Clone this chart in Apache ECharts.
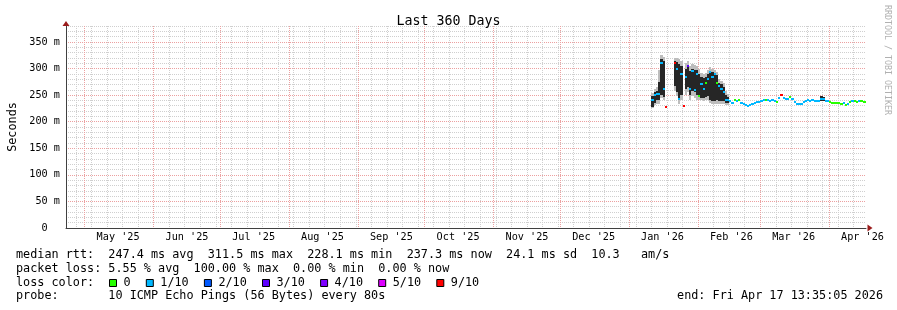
<!DOCTYPE html>
<html><head><meta charset="utf-8">
<script src="https://cdn.jsdelivr.net/npm/echarts@6/dist/echarts.min.js"></script>
<style>html,body{margin:0;padding:0;background:#fff}#c{width:897px;height:310px}</style>
</head><body><div id="c"></div>
<script>
const _ = null;
// ---- data (one bin per day, 2026) ----
const days = [
'2026-01-11','2026-01-12','2026-01-13','2026-01-14','2026-01-15','2026-01-16','2026-01-17','2026-01-18','2026-01-19','2026-01-20',
'2026-01-21','2026-01-22','2026-01-23','2026-01-24','2026-01-25','2026-01-26','2026-01-27','2026-01-28','2026-01-29','2026-01-30','2026-01-31',
'2026-02-01','2026-02-02','2026-02-03','2026-02-04','2026-02-05','2026-02-06','2026-02-07','2026-02-08','2026-02-09','2026-02-10',
'2026-02-11','2026-02-12','2026-02-13','2026-02-14','2026-02-15','2026-02-16','2026-02-17','2026-02-18','2026-02-19','2026-02-20',
'2026-02-21','2026-02-22','2026-02-23','2026-02-24','2026-02-25','2026-02-26','2026-02-27','2026-02-28',
'2026-03-01','2026-03-02','2026-03-03','2026-03-04','2026-03-05','2026-03-06','2026-03-07','2026-03-08','2026-03-09','2026-03-10',
'2026-03-11','2026-03-12','2026-03-13','2026-03-14','2026-03-15','2026-03-16','2026-03-17','2026-03-18','2026-03-19','2026-03-20',
'2026-03-21','2026-03-22','2026-03-23','2026-03-24','2026-03-25','2026-03-26','2026-03-27','2026-03-28','2026-03-29','2026-03-30','2026-03-31',
'2026-04-01','2026-04-02','2026-04-03','2026-04-04','2026-04-05','2026-04-06','2026-04-07','2026-04-08','2026-04-09','2026-04-10',
'2026-04-11','2026-04-12','2026-04-13','2026-04-14','2026-04-15','2026-04-16','2026-04-17'];

// median rtt (ms)
const median = [
240,250,253,252,311,262,228,_,_,_,
310,300,243,290,230,285,304,262,296,259,290,
248,270,262,272,280,294,285,290,272,268,
262,255,240,240,238,236,240,238,241,235,
233,231,230,232,234,236,237,237,
238,240,241,240,239,241,239,237,245,250,
245,243,243,246,243,237,234,233,234,237,
239,240,239,240,239,238,239,243,242,238,238,
237,236,235,236,235,234,235,231,233,237,
238,238,237,238,238,237,237];
// lost pings out of 10
const loss = [
1,1,1,1,1,1,9,_,_,_,
9,1,1,1,9,1,3,1,1,1,1,
0,1,1,0,1,1,1,1,0,1,
1,1,1,1,1,1,0,1,0,1,
1,1,1,1,1,1,1,1,
1,1,0,1,1,1,1,0,1,9,
1,1,1,0,1,1,1,1,1,1,
1,1,1,1,1,1,1,1,1,1,1,
0,0,0,0,0,0,1,0,1,0,
1,0,0,1,0,0,0];
// dense smoke (ms)
const innerLo = [
228,236,240,240,250,246,_,_,_,_,
268,255,240,250,_,262,265,250,258,256,250,
248,245,244,246,248,240,238,238,240,238,
238,238,236,236,_,_,_,_,_,_,
_,_,_,_,_,_,_,_,
_,_,_,_,_,_,_,_,_,_,
_,_,_,_,_,_,_,_,_,_,
_,_,_,_,_,_,_,238,238,_,_,
_,_,_,_,_,_,_,_,_,_,
_,_,_,_,_,_,_];
const innerHi = [
248,256,258,275,318,315,_,_,_,_,
314,312,308,305,_,300,306,296,300,298,298,
290,284,282,284,290,296,294,292,288,272,
270,266,250,246,_,_,_,_,_,_,
_,_,_,_,_,_,_,_,
_,_,_,_,_,_,_,_,_,_,
_,_,_,_,_,_,_,_,_,_,
_,_,_,_,_,_,_,248,247,_,_,
_,_,_,_,_,_,_,_,_,_,
_,_,_,_,_,_,_];
// light smoke (ms)
const outerLo = [
226,231,233,234,244,240,_,_,_,_,
258,248,234,240,_,250,255,240,248,245,240,
240,240,238,240,240,236,234,234,234,234,
234,234,232,232,_,_,_,_,_,_,
_,_,_,_,_,_,_,_,
_,_,_,_,_,_,_,_,_,_,
_,_,_,_,_,_,_,_,_,_,
_,_,_,_,_,_,_,_,_,_,_,
_,_,_,_,_,_,_,_,_,_,
_,_,_,_,_,_,_];
const outerHi = [
254,262,265,298,326,322,_,_,_,_,
320,320,318,315,_,310,314,305,308,306,305,
300,292,290,292,298,302,300,298,294,280,
276,272,258,253,_,_,_,_,_,_,
_,_,_,_,_,_,_,_,
_,_,_,_,_,_,_,_,_,_,
_,_,_,_,_,_,_,_,_,_,
_,_,_,_,_,_,_,_,_,_,_,
_,_,_,_,_,_,_,_,_,_,
_,_,_,_,_,_,_];

const monthStarts = ['2025-05-01','2025-06-01','2025-07-01','2025-08-01','2025-09-01','2025-10-01',
  '2025-11-01','2025-12-01','2026-01-01','2026-02-01','2026-03-01','2026-04-01'];
const monthLabels = ["May '25","Jun '25","Jul '25","Aug '25","Sep '25","Oct '25",
  "Nov '25","Dec '25","Jan '26","Feb '26","Mar '26","Apr '26"];
const yTickValues = [50,100,150,200,250,300,350];
const yLabelValues = [0,50,100,150,200,250,300,350];

const lossSteps = [0,1,2,3,4,5,9];
const lossNames = ['0','1/10','2/10','3/10','4/10','5/10','9/10'];
const lossColors = ['#26ff00','#00b8ff','#0059ff','#5e00ff','#7e00ff','#dd00ff','#ff0000'];

const legendLines = [
  'median rtt:  247.4 ms avg  311.5 ms max  228.1 ms min  237.3 ms now  24.1 ms sd  10.3   am/s',
  'packet loss: 5.55 % avg  100.00 % max  0.00 % min  0.00 % now',
  'loss color:',
  'probe:       10 ICMP Echo Pings (56 Bytes) every 80s'
];
const endText = 'end: Fri Apr 17 13:35:05 2026';
const titleText = 'Last 360 Days';
const yName = 'Seconds';
const watermark = 'RRDTOOL / TOBI OETIKER';

// ---- helpers ----
const DAY = 86400000;
const END = Date.UTC(2026, 3, 17, 13, 35, 5);
const START = END - 360 * DAY;
const ts = s => Date.parse(s + 'T00:00:00Z');
const FONT = '"DejaVu Sans Mono", monospace';

function lossColor(l) {
  for (let k = 0; k < lossSteps.length; k++) if (l <= lossSteps[k]) return lossColors[k];
  return lossColors[lossColors.length - 1];
}

const weekLines = [];
for (let w = Date.UTC(2025, 3, 27); w < END; w += 7 * DAY) weekLines.push(w);
const monthTs = monthStarts.map(ts);
const monthLabelTs = monthTs.map(m => m + 15 * DAY);

const medData = [], innerData = [], outerData = [];
days.forEach((d, i) => {
  const x = ts(d);
  if (median[i] != null) medData.push([x, median[i], loss[i]]);
  if (innerLo[i] != null) innerData.push([x, innerLo[i], innerHi[i]]);
  if (outerLo[i] != null) outerData.push([x, outerLo[i], outerHi[i]]);
});

function band(color) {
  return function (params, api) {
    const x0 = api.value(0), lo = api.value(1), hi = api.value(2);
    const a = api.coord([x0, hi]), b = api.coord([x0 + DAY, lo]);
    const xa = Math.round(a[0]), xb = Math.round(b[0]);
    const ya = Math.round(a[1]), yb = Math.round(b[1]);
    return { type: 'rect', shape: { x: xa, y: ya, width: Math.max(1, xb - xa), height: Math.max(1, yb - ya) },
      style: { fill: color } };
  };
}
function medItem(params, api) {
  const x0 = api.value(0), v = api.value(1), l = api.value(2);
  const a = api.coord([x0, v]), b = api.coord([x0 + DAY, v]);
  const xa = Math.round(a[0]), xb = Math.round(b[0]);
  return { type: 'rect', shape: { x: xa, y: Math.round(a[1]) - 1, width: Math.max(1, xb - xa), height: 2 },
    style: { fill: lossColor(l) } };
}

// ---- graphic legend ----
const LFONT = '11.8px ' + FONT;
const graphics = [];
const lineY = [254.5, 268.5, 282.7, 296];
legendLines.forEach((s, i) => graphics.push({ type: 'text', x: 16, y: lineY[i],
  style: { text: s, font: LFONT, fill: '#000', align: 'left', verticalAlign: 'middle' } }));
graphics.push({ type: 'text', x: 883, y: lineY[3],
  style: { text: endText, font: LFONT, fill: '#000', align: 'right', verticalAlign: 'middle' } });
let lx = 109;
lossNames.forEach((n, i) => {
  graphics.push({ type: 'rect', shape: { x: lx + 0.5, y: 279.5, width: 7, height: 7 },
    style: { fill: lossColors[i], stroke: '#000', lineWidth: 1 } });
  graphics.push({ type: 'text', x: lx + 14.5, y: lineY[2],
    style: { text: n, font: LFONT, fill: '#000', align: 'left', verticalAlign: 'middle' } });
  lx = lx + 14.5 + n.length * 7.1 + 15.2;
});
graphics.push({ type: 'text', x: 887, y: 60, rotation: -Math.PI / 2,
  style: { text: watermark, font: '8.3px ' + FONT, fill: '#b0b0b0', align: 'center', verticalAlign: 'middle' } });

const tickLabel = { fontFamily: FONT, fontSize: 10.2, color: '#000' };

const option = {
  animation: false,
  backgroundColor: '#fff',
  title: { text: titleText, left: 'center', top: 10,
    textStyle: { fontFamily: FONT, fontSize: 13.3, fontWeight: 'normal', color: '#000' } },
  grid: { left: 66, top: 26, width: 800, height: 202, containLabel: false, outerBoundsMode: 'none' },
  xAxis: [
    { type: 'value', min: START, max: END, position: 'bottom',
      axisLine: { show: true, onZero: false, lineStyle: { color: '#404040', width: 1 } },
      axisTick: { show: false, customValues: weekLines },
      axisLabel: Object.assign({ customValues: monthLabelTs, margin: 4,
        formatter: v => { const k = monthLabelTs.indexOf(v); return k >= 0 ? monthLabels[k] : ''; } }, tickLabel),
      splitLine: { show: true, lineStyle: { color: '#cfcfcf', width: 1, type: [1, 1] } } },
    { type: 'value', min: START, max: END, position: 'bottom',
      axisLine: { show: true, onZero: false, symbol: ['none', 'triangle'], symbolSize: [7, 5], symbolOffset: [0, 4],
        lineStyle: { color: '#9b1c1c', width: 0 } },
      axisTick: { show: false, customValues: monthTs },
      axisLabel: { show: false },
      splitLine: { show: true, lineStyle: { color: '#eca0a0', width: 1, type: [1, 1] } } }
  ],
  yAxis: [
    { type: 'value', min: 0, max: 380, interval: 10, position: 'left',
      axisLine: { show: true, onZero: false, lineStyle: { color: '#404040', width: 1 } },
      axisTick: { show: false }, axisLabel: { show: false },
      splitLine: { show: true, lineStyle: { color: '#cfcfcf', width: 1, type: [1, 1] } } },
    { type: 'value', min: 0, max: 380, position: 'left',
      name: yName, nameLocation: 'middle', nameGap: 47, nameRotate: 90,
      nameTextStyle: { fontFamily: FONT, fontSize: 11.8, color: '#000' },
      axisLine: { show: true, onZero: false, symbol: ['none', 'triangle'], symbolSize: [7, 5], symbolOffset: [0, 2.5],
        lineStyle: { color: '#9b1c1c', width: 0 } },
      axisTick: { show: false, customValues: yTickValues },
      axisLabel: Object.assign({ customValues: yLabelValues, margin: 6,
        formatter: v => v === 0 ? '0  ' : v + ' m' }, tickLabel),
      splitLine: { show: true, lineStyle: { color: '#eca0a0', width: 1, type: [1, 1] } } }
  ],
  series: [
    { type: 'custom', name: 'smoke-outer', clip: true, xAxisIndex: 0, yAxisIndex: 0,
      encode: { x: 0, y: [1, 2] }, data: outerData, renderItem: band('#bdbdbd'), silent: true },
    { type: 'custom', name: 'smoke-inner', clip: true, xAxisIndex: 0, yAxisIndex: 0,
      encode: { x: 0, y: [1, 2] }, data: innerData, renderItem: band('#262626'), silent: true },
    { type: 'custom', name: 'median', clip: true, xAxisIndex: 0, yAxisIndex: 0,
      encode: { x: 0, y: 1 }, data: medData, renderItem: medItem, silent: true }
  ],
  graphic: graphics
};
echarts.init(document.getElementById('c'), null, { renderer: 'canvas' }).setOption(option);
</script></body></html>
